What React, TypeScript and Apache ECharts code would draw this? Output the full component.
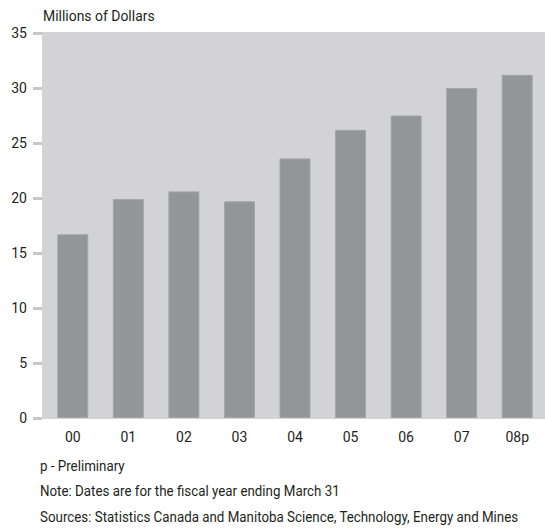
import React, { useEffect, useRef } from "react";
import * as echarts from "echarts";

const categories = ["00", "01", "02", "03", "04", "05", "06", "07", "08p"];
const values = [16.7, 19.9, 20.6, 19.7, 23.6, 26.2, 27.5, 30.0, 31.2];
const yTicks = { min: 0, max: 35, interval: 5 };
const unitLabel = "Millions of Dollars";
const footnotes = [
  "p - Preliminary",
  "Note: Dates are for the fiscal year ending March 31",
  "Sources: Statistics Canada and Manitoba Science, Technology, Energy and Mines",
];

const FONT = 'Roboto, "Noto Sans", sans-serif';
const TXT = "#231f20";

export default function App() {
  const ref = useRef<HTMLDivElement>(null);
  useEffect(() => {
    if (!ref.current) return;
    const chart = echarts.init(ref.current, undefined, { renderer: "svg" });
    chart.setOption({
      animation: false,
      backgroundColor: "#ffffff",
      textStyle: { fontFamily: FONT },
      grid: {
        left: 45,
        right: 0,
        top: 33,
        bottom: 113,
        show: false,
      },
      xAxis: {
        type: "category",
        data: categories,
        axisLine: { show: false },
        axisTick: { show: false },
        axisLabel: { color: TXT, fontSize: 14, margin: 12, fontFamily: FONT },
      },
      yAxis: {
        type: "value",
        min: yTicks.min,
        max: yTicks.max,
        interval: yTicks.interval,
        offset: 3,
        axisLine: { show: false },
        splitLine: { show: false },
        axisTick: { show: true, length: 9, lineStyle: { color: "#c8c8ca", width: 3 } },
        axisLabel: { color: TXT, fontSize: 14, margin: 15, fontFamily: FONT },
      },
      series: [
        {
          type: "bar",
          data: values,
          barWidth: 31,
          z: 3,
          itemStyle: { color: "#939598", borderColor: "#a3a5a8", borderWidth: 1 },
        },
      ],
      graphic: [
        {
          type: "rect",
          z: 0,
          silent: true,
          shape: { x: 42, y: 32, width: 503, height: 387 },
          style: { fill: "#d3d3d5" },
        },
        {
          type: "text",
          x: 43,
          y: 9,
          scaleX: 0.93,
          style: { text: unitLabel, fill: TXT, font: `15px ${FONT}` },
        },
        ...footnotes.map((t, i) => ({
          type: "text",
          x: 40,
          y: 458 + i * 25.5,
          scaleX: 0.89,
          style: { text: t, fill: TXT, font: `15px ${FONT}` },
        })),
      ],
    });
    return () => chart.dispose();
  }, []);
  return (
    <div
      ref={ref}
      style={{ position: "absolute", left: 0, top: 0, width: 545, height: 531 }}
    />
  );
}
